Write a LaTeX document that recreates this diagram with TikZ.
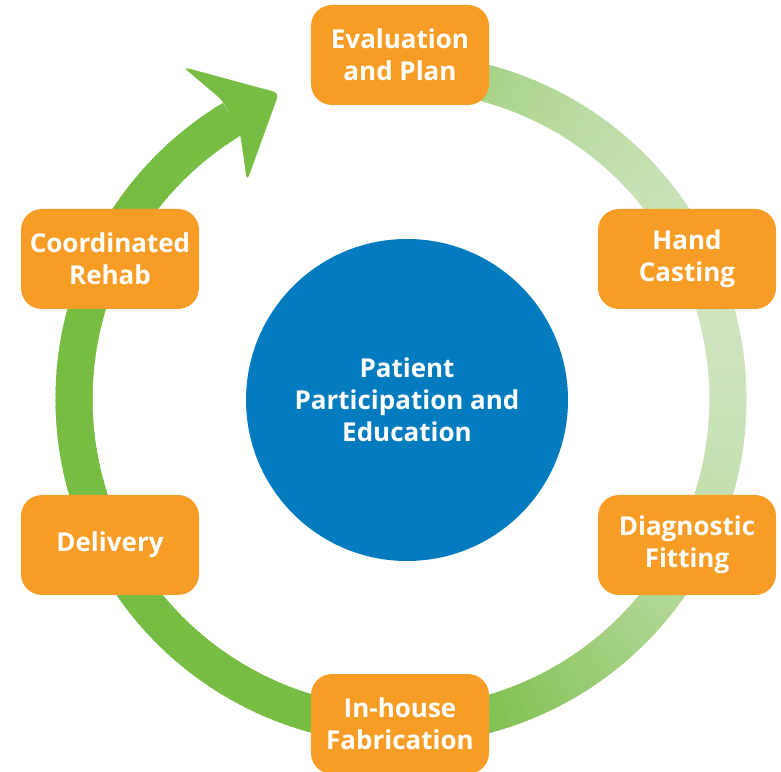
\documentclass[tikz,border=0pt]{standalone}
\usepackage{fontspec}
\setmainfont{Open Sans}
\definecolor{stageorange}{HTML}{F79D26}
\definecolor{hubblue}{HTML}{037BBF}
\definecolor{ringdark}{HTML}{77BC43}
\definecolor{ringpale}{HTML}{CDE4BD}
\tikzset{
  stage/.style={rectangle, fill=stageorange, rounded corners=21pt, minimum width=178pt, minimum height=100pt, inner sep=0pt, text=white, align=center, font=\bfseries\fontsize{26}{32}\selectfont},
  hub/.style={circle, fill=hubblue, minimum size=322pt, inner sep=0pt, text=white, align=center, font=\bfseries\fontsize{26}{32}\selectfont}
}
\begin{document}
\begin{tikzpicture}[x=1pt, y=1pt]
  \useasboundingbox (0,0) rectangle (781,771);
  \coordinate (ringc) at (401,372);
  \foreach \a in {90,89,...,-238}{
    \pgfmathsetmacro{\s}{\a+0.6}
    \pgfmathsetmacro{\e}{\a-1}
    \pgfmathsetmacro{\t}{100*max(0,min(1,0.9*(cos(\a-15)+0.12)))}
    \draw[line width=37pt, draw=ringpale!\t!ringdark] (ringc) ++(\s:327) arc[start angle=\s, end angle=\e, radius=327];
  }
  \fill[ringdark, rounded corners=6pt] (222,671) -- (183,704) -- (279,678) -- (247,590) -- (240,638) -- cycle;
  \node[hub] (hub) at (407,371) {Patient\\Participation and\\Education};
  \node[stage] (eval) at (400,716) {Evaluation\\and Plan};
  \node[stage] (cast) at (687,512) {Hand\\Casting};
  \node[stage] (fit) at (687,226) {Diagnostic\\Fitting};
  \node[stage] (fab) at (400,47) {In-house\\Fabrication};
  \node[stage] (deliv) at (110,226) {Delivery};
  \node[stage] (rehab) at (110,512) {Coordinated\\Rehab};
\end{tikzpicture}
\end{document}
